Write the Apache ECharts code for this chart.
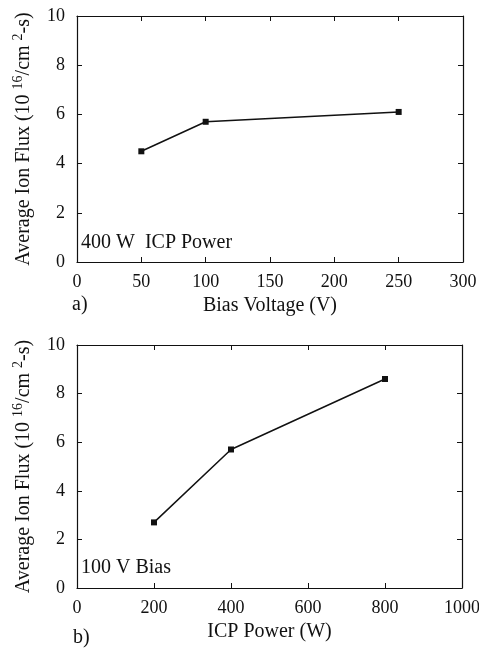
<!DOCTYPE html>
<html>
<head>
<meta charset="utf-8">
<script src="https://cdn.jsdelivr.net/npm/echarts@6/dist/echarts.min.js"></script>
<style>
  html, body { margin: 0; padding: 0; background: #fff; }
  #chart { width: 479px; height: 648px; }
</style>
</head>
<body>
<div id="chart"></div>
<script>
// panel a: 400 W ICP power, flux vs bias voltage
var biasVoltage = [50, 100, 250];
var fluxVsBias = [4.5, 5.7, 6.1];
// panel b: 100 V bias, flux vs ICP power
var icpPower = [200, 400, 800];
var fluxVsPower = [2.7, 5.7, 8.6];

var yTicks = [0, 2, 4, 6, 8, 10];

var font = '"Liberation Serif", "DejaVu Serif", serif';
var black = '#111';

var myChart = echarts.init(document.getElementById('chart'));

function pairs(xs, ys) {
  return xs.map(function (x, i) { return [x, ys[i]]; });
}

function xAxisFor(grid, max, interval, name, top) {
  return {
    type: 'value',
    gridIndex: grid,
    position: top ? 'top' : 'bottom',
    min: 0,
    max: max,
    interval: interval,
    name: top ? '' : name,
    nameLocation: 'middle',
    nameGap: 34,
    nameTextStyle: { fontFamily: font, fontSize: 20, color: black },
    axisLine: { show: true, onZero: false, lineStyle: { color: black, width: 1.2 } },
    axisTick: { show: true, inside: true, length: 5, lineStyle: { color: black } },
    axisLabel: {
      show: !top, fontFamily: font, fontSize: 18, color: black, margin: 11,
      formatter: function (v) { return String(v); }
    },
    splitLine: { show: false }
  };
}

function yAxisFor(grid, right) {
  return {
    type: 'value',
    gridIndex: grid,
    position: right ? 'right' : 'left',
    min: yTicks[0],
    max: yTicks[yTicks.length - 1],
    interval: 2,
    name: right ? '' : '{n|Average Ion Flux (10 }{s|16}{n|/cm }{s|2}{n|-s)}',
    nameLocation: 'middle',
    nameRotate: 90,
    nameGap: 40,
    nameTextStyle: {
      rich: {
        n: { fontFamily: font, fontSize: 20, color: black },
        s: { fontFamily: font, fontSize: 14, color: black, verticalAlign: 'bottom', padding: [0, 0, 12, 0] }
      }
    },
    axisLine: { show: true, onZero: false, lineStyle: { color: black, width: 1.2 } },
    axisTick: { show: true, inside: true, length: 5, lineStyle: { color: black } },
    axisLabel: { show: !right, fontFamily: font, fontSize: 18, color: black, margin: 12 },
    splitLine: { show: false }
  };
}

function lineSeries(x, y, data) {
  return {
    type: 'line',
    xAxisIndex: x,
    yAxisIndex: y,
    data: data,
    symbol: 'rect',
    symbolSize: 6,
    itemStyle: { color: black },
    lineStyle: { color: black, width: 1.5 },
    animation: false
  };
}

function label(x, y, text) {
  return {
    type: 'text', x: x, y: y,
    style: { text: text, font: '20px ' + font, fill: black, verticalAlign: 'middle' }
  };
}

var option = {
  backgroundColor: '#fff',
  grid: [
    { left: 77, right: 16, top: 16, height: 246, outerBoundsMode: 'none' },
    { left: 77, right: 17, top: 345, height: 243, outerBoundsMode: 'none' }
  ],
  xAxis: [
    xAxisFor(0, 300, 50, 'Bias Voltage (V)', false),
    xAxisFor(0, 300, 50, '', true),
    xAxisFor(1, 1000, 200, 'ICP Power (W)', false),
    xAxisFor(1, 1000, 200, '', true)
  ],
  yAxis: [
    yAxisFor(0, false),
    yAxisFor(0, true),
    yAxisFor(1, false),
    yAxisFor(1, true)
  ],
  series: [
    lineSeries(0, 0, pairs(biasVoltage, fluxVsBias)),
    lineSeries(2, 2, pairs(icpPower, fluxVsPower))
  ],
  graphic: [
    label(81, 243, '400 W  ICP Power'),
    label(72, 305, 'a)'),
    label(81, 568, '100 V Bias'),
    label(73, 638, 'b)')
  ]
};

option && myChart.setOption(option);
</script>
</body>
</html>
